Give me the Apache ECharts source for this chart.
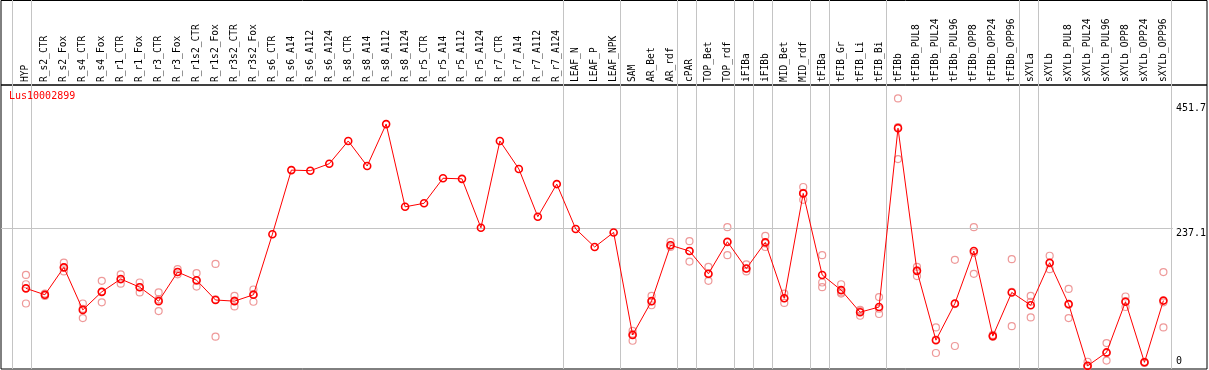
<!DOCTYPE html>
<html><head><meta charset="utf-8">
<script src="https://cdn.jsdelivr.net/npm/echarts@6/dist/echarts.min.js"></script>
<style>html,body{margin:0;padding:0;background:#fff}#c{width:1209px;height:370px}</style>
</head><body><div id="c"></div>
<script>
const geneName = 'Lus10002899';
const categories = ['HYP','R_s2_CTR','R_s2_Fox','R_s4_CTR','R_s4_Fox','R_r1_CTR','R_r1_Fox','R_r3_CTR','R_r3_Fox','R_r1s2_CTR','R_r1s2_Fox','R_r3s2_CTR','R_r3s2_Fox','R_s6_CTR','R_s6_A14','R_s6_A112','R_s6_A124','R_s8_CTR','R_s8_A14','R_s8_A112','R_s8_A124','R_r5_CTR','R_r5_A14','R_r5_A112','R_r5_A124','R_r7_CTR','R_r7_A14','R_r7_A112','R_r7_A124','LEAF_N','LEAF_P','LEAF_NPK','SAM','AR_Bet','AR_rdf','cPAR','TOP_Bet','TOP_rdf','iFIBa','iFIBb','MID_Bet','MID_rdf','tFIBa','tFIB_Gr','tFIB_Li','tFIB_Bi','tFIBb','tFIBb_PUL8','tFIBb_PUL24','tFIBb_PUL96','tFIBb_OPP8','tFIBb_OPP24','tFIBb_OPP96','sXYLa','sXYLb','sXYLb_PUL8','sXYLb_PUL24','sXYLb_PUL96','sXYLb_OPP8','sXYLb_OPP24','sXYLb_OPP96'];
const means = [134,123,170,97,128,150,136,112,162,148,114,112,123,227,337,336,348,387,344,416,274,280,323,322,238,387,339,257,313,236,205,230,54,112,208,198,159,214,168,213,117,297,157,131,93,102,409,164,45,108,198,52,127,105,178,107,1,24,111,7,113];
const repA = [157,125,178,108,147,158,144,127,167,160,176,121,132,null,null,null,null,null,null,null,null,null,null,null,null,null,null,null,null,null,null,null,61,121,214,215,171,239,175,224,125,308,191,141,97,119,460,171,67,183,239,54,184,121,190,133,8,40,120,8,162];
const repB = [141,122,170,99,128,149,136,115,162,147,115,113,124,null,null,null,null,null,null,null,null,null,null,null,null,null,null,null,null,null,null,null,56,112,208,198,158,213,168,211,117,298,144,127,95,99,411,165,46,107,195,52,128,111,177,106,0,23,112,7,110];
const repC = [108,121,163,83,110,142,127,95,158,137,51,103,111,null,null,null,null,null,null,null,null,null,null,null,null,null,null,null,null,null,null,null,44,105,205,180,147,191,163,205,109,286,136,125,87,90,356,155,23,35,159,51,69,84,167,83,0,10,102,6,67];
const yTickLabels = [237.1, 451.7];
const yBottomLabel = [0];
const gridLineValue = 237.1;
const separatorsAfter = [-1,0,28,31,34,35,37,38,39,41,42,45,52,53,60];

const X_MIN = -1.3158, X_MAX = 60.5, Y_MIN = -4.46, Y_MAX = 483.1;
const mono = 'DejaVu Sans Mono';
const chart = echarts.init(document.getElementById('c'), null, {renderer: 'canvas'});
const idx = categories.map((_, i) => i);

const repSeries = [repA, repB, repC].map(r => ({
  type: 'scatter', xAxisIndex: 0, yAxisIndex: 0, z: 3, silent: true,
  symbol: 'circle', symbolSize: 7,
  itemStyle: {color: 'transparent', borderColor: '#ea7f7f', borderWidth: 1.2},
  data: r.map((v, i) => v == null ? null : [i, v]).filter(Boolean)
}));

const yAxisBase = (vals, va) => ({
  gridIndex: 0, type: 'value', min: Y_MIN, max: Y_MAX, position: 'right',
  axisLine: {show: false}, axisTick: {show: false}, splitLine: {show: false},
  axisLabel: {customValues: vals, formatter: v => String(v), verticalAlign: va, align: 'left',
    margin: 3, fontFamily: mono, fontSize: 10, color: '#000'}
});

chart.setOption({
  animation: false,
  backgroundColor: '#fff',
  title: {text: geneName, left: 9, top: 91, padding: 0,
    textStyle: {color: '#ff0000', fontSize: 10, fontFamily: mono, fontWeight: 'normal'}},
  grid: [
    {left: 1, right: 33.5, top: 85, bottom: 1, show: false},
    {left: 1, right: 33.5, top: 0, bottom: 1, show: false},
    {left: 1, right: 2, top: 0.5, height: 84.5, show: true, borderColor: '#000', borderWidth: 1, backgroundColor: 'transparent'},
    {left: 1, right: 2, top: 85, bottom: 1, show: true, borderColor: '#000', borderWidth: 1, backgroundColor: 'transparent'}
  ],
  xAxis: [
    {gridIndex: 0, type: 'value', min: X_MIN, max: X_MAX, position: 'top',
      axisLine: {show: false}, axisTick: {show: false}, splitLine: {show: false},
      axisLabel: {customValues: idx, formatter: v => categories[Math.round(v)], rotate: 90,
        fontFamily: mono, fontSize: 9.6, color: '#000', margin: 3}},
    {gridIndex: 1, type: 'value', min: X_MIN, max: X_MAX, show: false}
  ],
  yAxis: [
    yAxisBase(yTickLabels, 'top'),
    yAxisBase(yBottomLabel, 'bottom'),
    {gridIndex: 1, type: 'value', min: 0, max: 1, show: false}
  ],
  series: [
    {type: 'line', xAxisIndex: 1, yAxisIndex: 2, data: [], z: 1, silent: true,
      markLine: {silent: true, symbol: 'none', animation: false, label: {show: false},
        lineStyle: {color: '#c4c4c4', width: 1, type: 'solid'},
        data: separatorsAfter.map(i => ({xAxis: i + 0.25}))}},
    ...repSeries,
    {type: 'line', xAxisIndex: 0, yAxisIndex: 0, z: 5, silent: true,
      data: means.map((v, i) => [i, v]),
      symbol: 'circle', symbolSize: 7,
      lineStyle: {color: '#ff0000', width: 1},
      itemStyle: {color: 'transparent', borderColor: '#ff0000', borderWidth: 1.6},
      markLine: {silent: true, symbol: 'none', animation: false, label: {show: false},
        lineStyle: {color: '#c4c4c4', width: 1, type: 'solid'},
        data: [{yAxis: gridLineValue}]}}
  ]
});
</script></body></html>
